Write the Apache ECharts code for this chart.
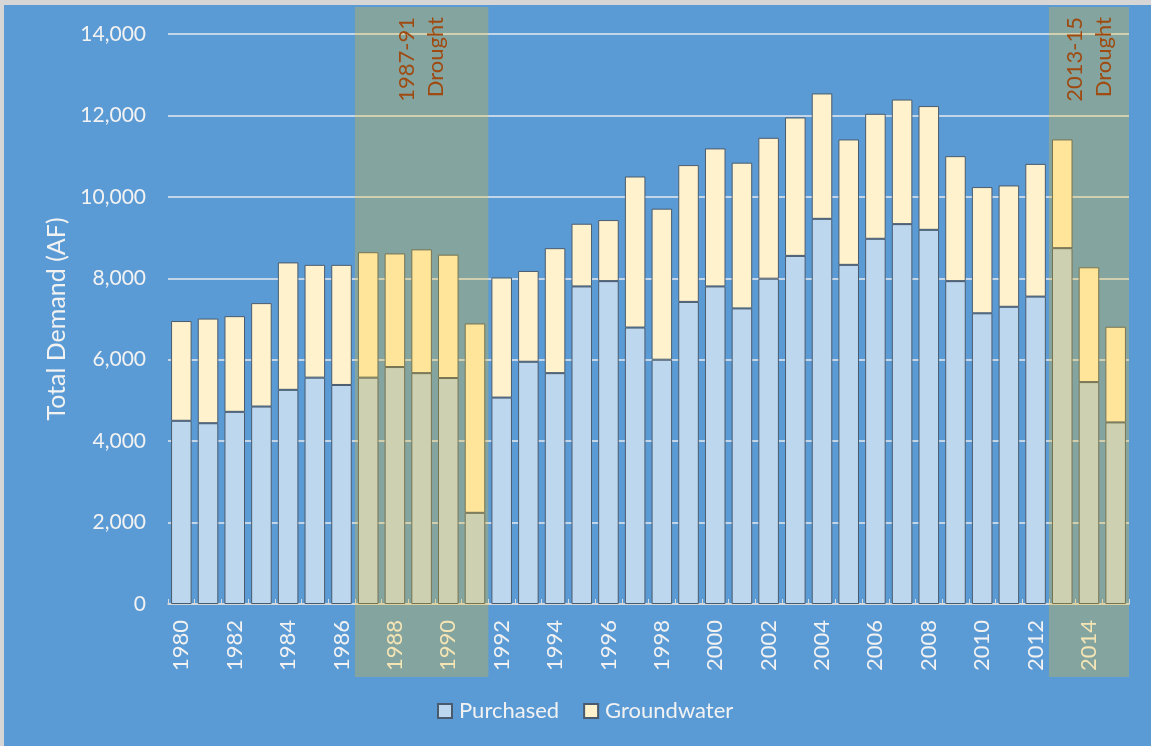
<!DOCTYPE html>
<html>
<head>
<meta charset="utf-8">
<script src="https://cdn.jsdelivr.net/npm/echarts@6/dist/echarts.min.js"></script>
<style>
  html, body { margin: 0; padding: 0; width: 1151px; height: 746px; background: #d6d6d6; overflow: hidden; }
  #chart { position: absolute; left: 4px; top: 5px; width: 1147px; height: 741px; background: #5B9BD5; }
</style>
</head>
<body>
<div id="chart"></div>
<script>
const years = ['1980','1981','1982','1983','1984','1985','1986','1987','1988','1989',
  '1990','1991','1992','1993','1994','1995','1996','1997','1998','1999',
  '2000','2001','2002','2003','2004','2005','2006','2007','2008','2009',
  '2010','2011','2012','2013','2014','2015'];
const purchased = [4500, 4440, 4720, 4850, 5260, 5560, 5380, 5560, 5820, 5670,
  5550, 2240, 5070, 5950, 5670, 7800, 7930, 6790, 6000, 7420,
  7800, 7260, 7990, 8550, 9460, 8330, 8970, 9330, 9190, 7930,
  7140, 7300, 7550, 8740, 5450, 4460];
const groundwater = [2450, 2570, 2350, 2540, 3130, 2770, 2950, 3080, 2790, 3040,
  3030, 4650, 2950, 2230, 3070, 1540, 1500, 3710, 3710, 3360,
  3390, 3580, 3460, 3400, 3080, 3080, 3070, 3060, 3040, 3070,
  3100, 2980, 3260, 2670, 2820, 2350];
const seriesNames = ['Purchased', 'Groundwater'];
const droughtStart = ['1987', '2013'];
const droughtEnd = ['1991', '2015'];
const droughtLabels = ['1987-91\nDrought', '2013-15\nDrought'];

const FONT = 'Lato';
const TXT = '#F2F2F2';
const chart = echarts.init(document.getElementById('chart'));

const areas = droughtStart.map((s, i) => [
  { name: droughtLabels[i], xAxis: s, y: 2 },
  { xAxis: droughtEnd[i], y: 672 }
]);

chart.setOption({
  animation: false,
  backgroundColor: '#5B9BD5',
  textStyle: { fontFamily: FONT },
  grid: { left: 164, right: 22, top: 29, bottom: 142, containLabel: false },
  legend: {
    data: seriesNames,
    top: 690,
    left: 428,
    icon: 'rect',
    itemWidth: 14,
    itemHeight: 14,
    itemGap: 24,
    textStyle: { color: TXT, fontSize: 22, fontFamily: FONT, padding: [0, 0, 0, 2] }
  },
  xAxis: {
    type: 'category',
    data: years,
    axisLine: { lineStyle: { color: '#D9D9D9', width: 1.5 } },
    axisTick: { show: true, inside: true, interval: 0, length: 5, lineStyle: { color: '#D9D9D9' } },
    axisLabel: { interval: 1, rotate: 90, color: TXT, fontSize: 22, margin: 16, fontFamily: FONT }
  },
  yAxis: {
    type: 'value',
    min: 0,
    max: 14000,
    interval: 2000,
    name: 'Total Demand (AF)',
    nameLocation: 'middle',
    nameGap: 99,
    nameTextStyle: { color: TXT, fontSize: 25, fontFamily: FONT },
    axisLine: { show: false },
    axisTick: { show: false },
    axisLabel: {
      color: TXT, fontSize: 21, margin: 22, fontFamily: FONT,
      formatter: v => v.toLocaleString('en-US')
    },
    splitLine: { lineStyle: { color: '#E6E9EE', width: 1.5 } }
  },
  series: [
    {
      name: seriesNames[0],
      type: 'bar',
      stack: 'total',
      data: purchased,
      barCategoryGap: '23%',
      itemStyle: { color: '#BDD7EE', borderColor: '#4A5B6E', borderWidth: 1 },
      markArea: {
        z: 10,
        silent: true,
        itemStyle: { color: 'rgba(255,192,0,0.25)', borderWidth: 0 },
        label: {
          show: true,
          position: 'insideTop',
          distance: 10,
          rotate: 90,
          align: 'right',
          verticalAlign: 'middle',
          color: '#9E4A10',
          fontSize: 22,
          lineHeight: 29,
          fontFamily: FONT
        },
        data: areas
      }
    },
    {
      name: seriesNames[1],
      type: 'bar',
      stack: 'total',
      data: groundwater,
      barCategoryGap: '23%',
      itemStyle: { color: '#FFF2CC', borderColor: '#4A5B6E', borderWidth: 1 }
    }
  ]
});
</script>
</body>
</html>
